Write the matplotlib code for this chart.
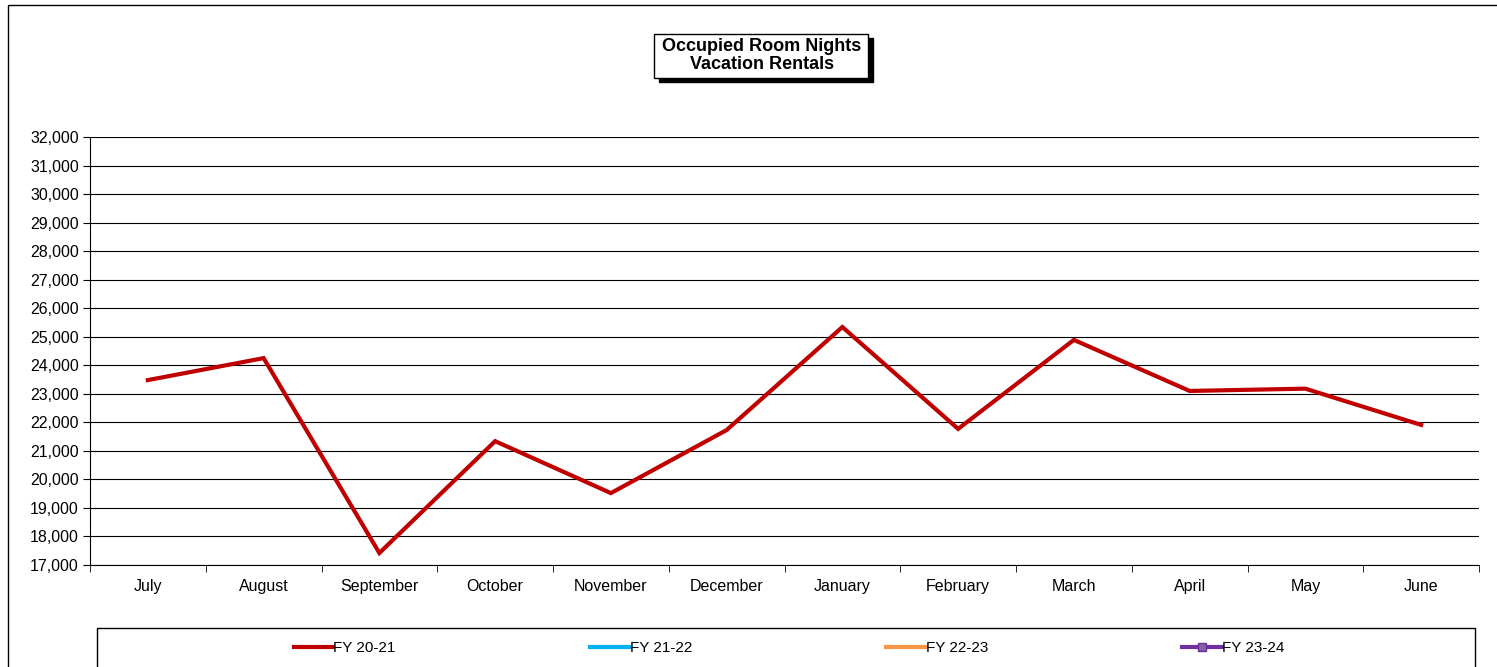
#!/usr/bin/env python3

import numpy as np
import matplotlib
matplotlib.use('Agg')
import matplotlib.pyplot as plt
from matplotlib.patches import Rectangle
from matplotlib.ticker import FuncFormatter

months = ["July", "August", "September", "October", "November", "December",
          "January", "February", "March", "April", "May", "June"]
fy2021 = [23480, 24250, 17420, 21340, 19520, 21730,
          25340, 21770, 24890, 23100, 23180, 21910]
fy2122 = []
fy2223 = []
fy2324 = []
yticks = list(range(17000, 32001, 1000))

plt.rcParams['font.family'] = ['Liberation Sans', 'DejaVu Sans']
plt.rcParams['font.size'] = 11.5

fig = plt.figure(figsize=(14.97, 6.67), dpi=100)
W, H = 1497.0, 667.0

# outer chart border
fig.patches.append(Rectangle((8 / W, -0.01), 1.2, (H - 5) / H + 0.01, transform=fig.transFigure,
                             fill=False, edgecolor='black', linewidth=1.0))

ax = fig.add_axes([90 / W, 1 - 565 / H, (1479 - 90) / W, (565 - 137) / H])
x = np.arange(len(months))
ax.plot(x, fy2021, color='#C00000', linewidth=3, label='FY 20-21', solid_joinstyle='miter')
ax.plot(fy2122, fy2122, color='#00B0F0', linewidth=3, label='FY 21-22')
ax.plot(fy2223, fy2223, color='#F79646', linewidth=3, label='FY 22-23')
ax.plot(fy2324, fy2324, color='#7030A0', linewidth=3, marker='s', markersize=6,
        markerfacecolor='#8064A2', label='FY 23-24')

ax.set_xlim(-0.5, len(months) - 0.5)
ax.set_ylim(17000, 32000)
ax.set_yticks(yticks)
ax.yaxis.set_major_formatter(FuncFormatter(lambda v, p: '{:,.0f}'.format(v)))
ax.yaxis.grid(True, color='black', linewidth=0.8)
ax.set_axisbelow(True)
ax.set_xticks(x)
ax.set_xticklabels(months)
ax.set_xticks(np.arange(-0.5, len(months)), minor=True)
ax.tick_params(axis='x', which='major', length=0, pad=10)
ax.tick_params(axis='x', which='minor', length=5, direction='out')
ax.tick_params(axis='y', length=5, direction='out', pad=3)
ax.spines['top'].set_visible(False)
ax.spines['right'].set_visible(False)

# title box with shadow
tx, ty = 762 / W, 1 - 55.5 / H
fig.patches.append(Rectangle((659 / W, 1 - 82 / H), 214 / W, 44 / H, transform=fig.transFigure,
                             facecolor='black', edgecolor='black'))
fig.patches.append(Rectangle((654 / W, 1 - 78 / H), 214 / W, 44 / H, transform=fig.transFigure,
                             facecolor='white', edgecolor='black', linewidth=1.0))
fig.text(tx, ty, "Occupied Room Nights\nVacation Rentals", ha='center', va='center',
         fontsize=13, fontweight='bold', linespacing=1.15)

# legend box
fig.patches.append(Rectangle((97 / W, -0.01), (1475 - 97) / W, (667 - 628) / H + 0.01,
                             transform=fig.transFigure, fill=False, edgecolor='black', linewidth=1.0))
handles, labels = ax.get_legend_handles_labels()
fig.legend(handles, labels, loc='center', bbox_to_anchor=(0.527, 1 - 648 / H), ncol=4,
           frameon=False, handlelength=2.6, handletextpad=0.0, columnspacing=12.7, fontsize=11)

plt.savefig('out.png', dpi=100)
